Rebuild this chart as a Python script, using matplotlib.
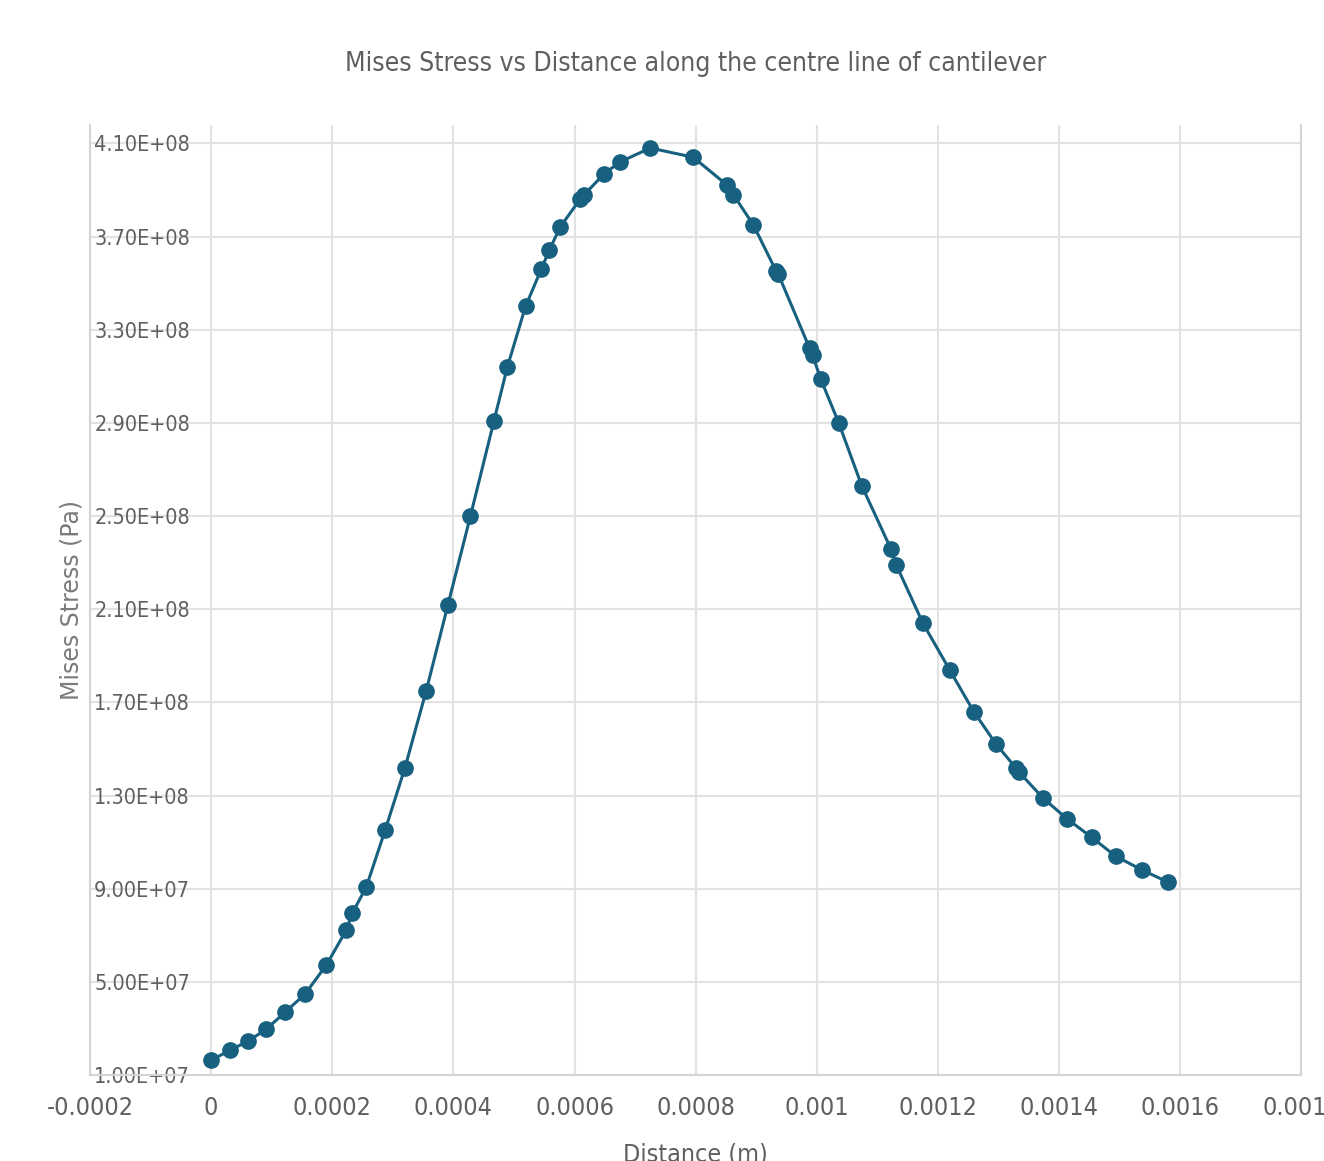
import matplotlib.pyplot as plt
from matplotlib import font_manager

# distance along centre line [m] and Mises stress [Pa]
distance = [0.0, 0.0000314, 0.000061, 0.000091, 0.000122, 0.000155, 0.00019,
            0.000223, 0.000233, 0.000256, 0.000287, 0.00032, 0.000355,
            0.000391, 0.000428, 0.000467, 0.000489, 0.000519, 0.000545,
            0.000558, 0.000576, 0.000609, 0.000616, 0.000649, 0.000675,
            0.000725, 0.000796, 0.000852, 0.000862, 0.000895, 0.000933,
            0.000936, 0.000988, 0.000993, 0.001006, 0.001036, 0.001074,
            0.001122, 0.001131, 0.001175, 0.001219, 0.001259, 0.001296,
            0.001328, 0.001334, 0.001373, 0.001413, 0.001454, 0.001493,
            0.001537, 0.00158]
stress = [1.64e7, 2.07e7, 2.46e7, 2.97e7, 3.70e7, 4.48e7, 5.72e7, 7.22e7,
          7.95e7, 9.07e7, 1.15e8, 1.42e8, 1.75e8, 2.12e8, 2.50e8, 2.91e8,
          3.14e8, 3.40e8, 3.56e8, 3.64e8, 3.74e8, 3.86e8, 3.88e8, 3.97e8,
          4.02e8, 4.08e8, 4.04e8, 3.92e8, 3.88e8, 3.75e8, 3.55e8, 3.54e8,
          3.22e8, 3.19e8, 3.09e8, 2.90e8, 2.63e8, 2.36e8, 2.29e8, 2.04e8,
          1.84e8, 1.66e8, 1.52e8, 1.42e8, 1.40e8, 1.29e8, 1.20e8, 1.12e8,
          1.04e8, 9.80e7, 9.28e7]

x_ticks = [-0.0002, 0, 0.0002, 0.0004, 0.0006, 0.0008, 0.001, 0.0012,
           0.0014, 0.0016, 0.0018]
x_labels = ["-0.0002", "0", "0.0002", "0.0004", "0.0006", "0.0008", "0.001",
            "0.0012", "0.0014", "0.0016", "0.0018"]
y_ticks = [1e7, 5e7, 9e7, 1.3e8, 1.7e8, 2.1e8, 2.5e8, 2.9e8, 3.3e8, 3.7e8, 4.1e8]
y_labels = ["1.00E+07", "5.00E+07", "9.00E+07", "1.30E+08", "1.70E+08",
            "2.10E+08", "2.50E+08", "2.90E+08", "3.30E+08", "3.70E+08",
            "4.10E+08"]

# look for a narrow/condensed face, the original uses a condensed font
narrow_file = None
for f in font_manager.fontManager.ttflist:
    if f.style == "normal" and f.weight in (400, "normal", "regular") and \
            ("condensed" in str(f.stretch) or "Narrow" in f.name or "Condensed" in f.name):
        narrow_file = f.fname
        break

def narrow(size):
    if narrow_file:
        return font_manager.FontProperties(fname=narrow_file, size=size)
    return font_manager.FontProperties(family="Roboto", size=size * 0.85)

text_col = "#5f5f5f"
grid_col = "#e2e2e2"
line_col = "#17607f"

fig = plt.figure(figsize=(13.24, 11.61), dpi=100)
ax = fig.add_axes([0.068, 0.074, 0.915, 0.818])

ax.plot(distance, stress, color=line_col, lw=2.2, marker="o", ms=11,
        mfc=line_col, mec=line_col, zorder=3)

ax.set_xlim(-0.0002, 0.0018)
ax.set_ylim(1e7, 4.177e8)
ax.set_xticks(x_ticks)
ax.set_xticklabels(x_labels, fontproperties=narrow(18), color=text_col)
ax.set_yticks(y_ticks)
ax.set_yticklabels(y_labels, fontproperties=narrow(15.5), color=text_col,
                   ha="left")
ax.tick_params(axis="x", length=0, pad=15)
ax.tick_params(axis="y", length=0, pad=-3)

ax.grid(True, color=grid_col, lw=1.5)
ax.set_axisbelow(True)
for side in ["left", "right", "bottom"]:
    ax.spines[side].set_color("#d4d4d4")
    ax.spines[side].set_linewidth(1.5)
ax.spines["top"].set_visible(False)

ax.set_title("Mises Stress vs Distance along the centre line of cantilever",
             fontproperties=narrow(19), color=text_col, pad=39)
ax.set_ylabel("Mises Stress (Pa)", fontsize=17, color="#7a7a7a", labelpad=5)
ax.set_xlabel("Distance (m)", fontproperties=narrow(18), color=text_col,
              labelpad=16)

fig.savefig("out.png", dpi=100)
